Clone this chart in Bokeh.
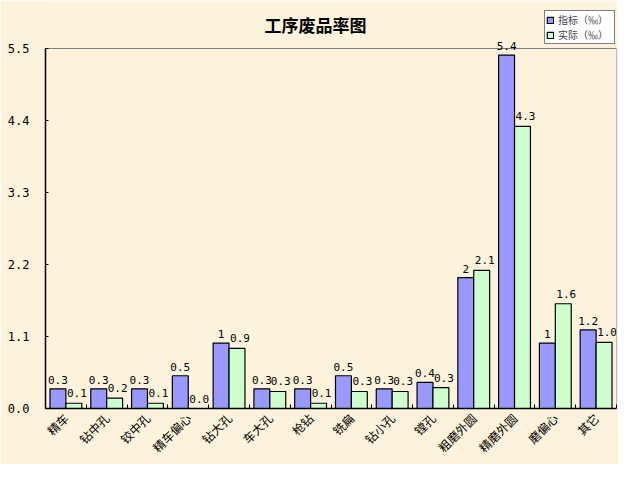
import math
from bokeh.plotting import figure
from bokeh.models import (ColumnDataSource, FixedTicker, Range1d, LabelSet, Label,
                          Legend, LegendItem, PrintfTickFormatter)
from bokeh.core.properties import value
from bokeh.embed import file_html
from bokeh.resources import INLINE

categories = ["精车", "钻中孔", "铰中孔", "精车偏心", "钻大孔", "车大孔", "枪钻",
              "铣扁", "钻小孔", "镗孔", "粗磨外圆", "精磨外圆", "磨偏心", "其它"]
target = [0.3, 0.3, 0.3, 0.5, 1.0, 0.3, 0.3, 0.5, 0.3, 0.4, 2.0, 5.4, 1.0, 1.2]
actual = [0.08, 0.16, 0.08, 0.0, 0.92, 0.26, 0.08, 0.26, 0.26, 0.32, 2.11, 4.31, 1.6, 1.01]
y_ticks = [0.0, 1.1, 2.2, 3.3, 4.4, 5.5]
series_names = ["指标（‰）", "实际（‰）"]
title_text = "工序废品率图"

BG = "#FDF3DC"
BLUE = "#9999FF"
GREEN = "#CCFFCC"
CJK = "Noto Sans CJK SC"
MONO = "DejaVu Sans Mono"

# layout (canvas pixels)
W, H = 618, 464
TOP, BOTTOM = 2, 408          # frame extent
AXIS_TOP = 48                 # where the y axis maximum sits
y_max = y_ticks[-1]
y_end = y_max * (BOTTOM - TOP) / (BOTTOM - AXIS_TOP)

n = len(categories)
centers = [i + 0.5 for i in range(n)]
bw = 0.39
src = ColumnDataSource(dict(
    xt=[c - bw / 2 for c in centers],
    xa=[c + bw / 2 for c in centers],
    target=target,
    actual=actual,
    lt=[f"{v:g}" for v in target],
    la=[f"{v:.1f}" for v in actual],
))

p = figure(width=W, height=H, output_backend="svg", toolbar_location=None,
           x_range=Range1d(0, n), y_range=Range1d(0, y_end),
           background_fill_color=BG, border_fill_color=BG,
           min_border_left=45, min_border_right=2, min_border_top=TOP,
           min_border_bottom=H - BOTTOM)
p.outline_line_color = None
p.xgrid.visible = False
p.ygrid.visible = False

# plot-area border (grey, top and right)
p.segment(x0=[0, n], y0=[y_max, 0], x1=[n, n], y1=[y_max, y_max],
          line_color="#808080", line_width=1)

rt = p.vbar(x="xt", top="target", width=bw, bottom=0, source=src,
            fill_color=BLUE, line_color="black", line_width=1.2)
ra = p.vbar(x="xa", top="actual", width=bw, bottom=0, source=src,
            fill_color=GREEN, line_color="black", line_width=1.2)

p.add_layout(LabelSet(x="xt", y="target", text="lt", source=src,
                      text_align="center", text_baseline="bottom", y_offset=5,
                      text_font=value(MONO), text_font_size="11px",
                      text_color="black"))
p.add_layout(LabelSet(x="xa", y="actual", text="la", source=src,
                      text_align="center", text_baseline="bottom", x_offset=3,
                      y_offset=6, text_font=value(MONO), text_font_size="11px",
                      text_color="black"))

# title
p.add_layout(Label(x=270, y=BOTTOM - 24, x_units="screen", y_units="screen",
                   text=title_text, text_align="center", text_baseline="middle",
                   text_font=CJK, text_font_size="17px",
                   text_font_style="bold", text_color="black"))

# y axis
ya = p.yaxis[0]
ya.bounds = (0, y_max)
ya.ticker = FixedTicker(ticks=y_ticks)
ya.formatter = PrintfTickFormatter(format="%.1f")
ya.major_tick_in = 3
ya.major_tick_out = 0
ya.minor_tick_line_color = None
ya.axis_line_color = "black"
ya.axis_line_width = 1.5
ya.major_tick_line_color = "black"
ya.major_label_text_font = MONO
ya.major_label_text_font_size = "12px"
ya.major_label_text_color = "black"
ya.major_label_standoff = 16

# x axis: category labels at centres, tick marks at category boundaries
xa = p.xaxis[0]
xa.ticker = FixedTicker(ticks=centers, minor_ticks=list(range(n + 1)))
xa.major_label_overrides = {c: lab for c, lab in zip(centers, categories)}
xa.major_tick_line_color = None
xa.major_tick_in = 0
xa.major_tick_out = 0
xa.minor_tick_in = 4
xa.minor_tick_out = 0
xa.minor_tick_line_color = "black"
xa.axis_line_color = "black"
xa.axis_line_width = 1.5
xa.major_label_orientation = math.pi / 4
xa.major_label_text_font = CJK
xa.major_label_text_font_size = "12px"
xa.major_label_text_color = "black"
xa.major_label_standoff = 7

legend = Legend(items=[LegendItem(label=series_names[0], renderers=[rt]),
                       LegendItem(label=series_names[1], renderers=[ra])],
                location=(499, 364), orientation="vertical",
                border_line_color="black", border_line_width=1,
                background_fill_color="white", background_fill_alpha=1,
                label_text_font=CJK, label_text_font_size="10px",
                glyph_width=8, glyph_height=8, label_height=10, label_width=55,
                label_standoff=4, padding=1, spacing=0, margin=0)
p.add_layout(legend, "center")

open("out.html", "w").write(file_html(p, INLINE))
